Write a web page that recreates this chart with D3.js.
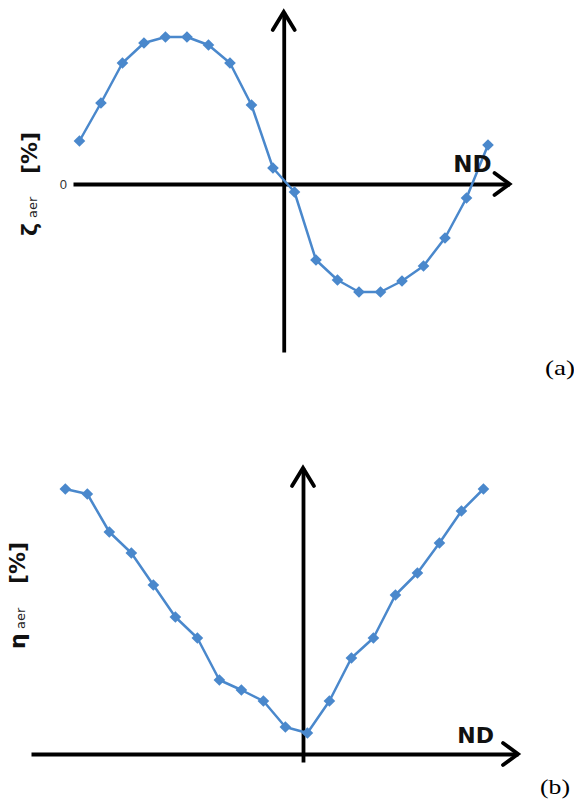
<!DOCTYPE html>
<html>
<head>
<meta charset="utf-8">
<script src="https://cdn.jsdelivr.net/npm/d3@7"></script>
<style>
  html, body { margin: 0; padding: 0; background: #fff; }
  svg { display: block; }
</style>
</head>
<body>
<div id="chart"></div>
<script>
// ---- Data ----
// Panel (a): zeta_aer vs ND
const ndA = [-9.5, -8.5, -7.5, -6.5, -5.5, -4.5, -3.5, -2.5, -1.5, -0.5,
              0.5,  1.5,  2.5,  3.5,  4.5,  5.5,  6.5,  7.5,  8.5,  9.5];
const zetaAer = [4.3, 8.1, 12.1, 14.1, 14.7, 14.7, 13.9, 12.1, 7.9, 1.6,
                 -0.8, -7.6, -9.6, -10.8, -10.8, -9.7, -8.2, -5.4, -1.4, 3.9];

// Panel (b): eta_aer vs ND
const ndB = [-10.8, -9.8, -8.8, -7.8, -6.8, -5.8, -4.8, -3.8, -2.8, -1.8,
              -0.8,  0.2,  1.2,  2.2,  3.2,  4.2,  5.2,  6.2,  7.2,  8.2];
const etaAer = [26.5, 26.0, 22.2, 20.1, 16.9, 13.7, 11.6, 7.4, 6.4, 5.3,
                2.7, 2.1, 5.3, 9.6, 11.6, 15.9, 18.1, 21.1, 24.3, 26.5];

// Labels
const xLabel = "ND";
const yLabelA = { sym: "ζ", sub: "aer", unit: "[%]" };
const yLabelB = { sym: "η", sub: "aer", unit: "[%]" };
const zeroLabel = "0";
const panelA = "(a)";
const panelB = "(b)";

// ---- Drawing ----
const W = 574, H = 799;
const blue = "#4a88cc";

const svg = d3.select("#chart").append("svg")
  .attr("width", W).attr("height", H)
  .attr("viewBox", `0 0 ${W} ${H}`);
svg.append("rect").attr("width", W).attr("height", H).attr("fill", "#fff");

function panel(cfg) {
  const g = svg.append("g");
  const x = cfg.x, y = cfg.y;
  const [x0, x1] = x.range();
  const [yb, yt] = y.range();
  const axisY = y(0), axisX = x(0);

  // horizontal axis (through zero)
  const ax = g.append("g")
    .attr("transform", `translate(0,${axisY})`)
    .call(d3.axisBottom(x).tickValues([]).tickSizeOuter(0));
  ax.select(".domain").attr("stroke", "#000").attr("stroke-width", 3.8);

  // vertical axis (at ND = 0)
  const ay = g.append("g")
    .attr("transform", `translate(${axisX},0)`)
    .call(d3.axisLeft(y).tickValues([]).tickSizeOuter(0));
  ay.select(".domain").attr("stroke", "#000").attr("stroke-width", 3.8);

  // arrow heads (open chevrons)
  const ah = 15, aw = 11;
  g.append("path")
    .attr("d", `M${x1 - ah},${axisY - aw}L${x1},${axisY}L${x1 - ah},${axisY + aw}`)
    .attr("fill", "none").attr("stroke", "#000").attr("stroke-width", 3.8)
    .attr("stroke-linecap", "round").attr("stroke-linejoin", "miter");
  g.append("path")
    .attr("d", `M${axisX - aw},${yt + ah + 3}L${axisX},${yt}L${axisX + aw},${yt + ah + 3}`)
    .attr("fill", "none").attr("stroke", "#000").attr("stroke-width", 3.8)
    .attr("stroke-linecap", "round").attr("stroke-linejoin", "miter");

  // data line
  const data = cfg.nd.map((d, i) => ({ nd: d, v: cfg.vals[i] }));
  g.append("path")
    .datum(data)
    .attr("fill", "none")
    .attr("stroke", blue)
    .attr("stroke-width", 2.5)
    .attr("stroke-linejoin", "round")
    .attr("d", d3.line().x(d => x(d.nd)).y(d => y(d.v)));

  // diamond markers
  const sym = d3.symbol().type(d3.symbolSquare).size(68);
  g.selectAll("path.mk").data(data).join("path")
    .attr("class", "mk")
    .attr("d", sym)
    .attr("fill", blue)
    .attr("transform", d => `translate(${x(d.nd)},${y(d.v)}) rotate(45)`);

  // ND label
  g.append("text")
    .attr("x", x1 - cfg.ndOff[0]).attr("y", axisY - cfg.ndOff[1])
    .attr("text-anchor", "end")
    .attr("font-family", "DejaVu Sans, sans-serif")
    .attr("font-weight", "bold")
    .attr("font-size", cfg.ndSize)
    .attr("fill", "#111")
    .text(xLabel);

  // Y label (rotated pieces)
  const yl = cfg.ylab;
  const lx = cfg.ylx;
  g.append("text")
    .attr("transform", `translate(${lx},${cfg.ylPos[0]}) rotate(-90)`)
    .attr("font-family", "DejaVu Sans, sans-serif").attr("font-weight", "bold")
    .attr("font-size", 22).attr("fill", "#111").text(yl.sym);
  g.append("text")
    .attr("transform", `translate(${lx},${cfg.ylPos[1]}) rotate(-90)`)
    .attr("font-family", "DejaVu Sans, sans-serif")
    .attr("font-size", 13).attr("fill", "#222").text(yl.sub);
  g.append("text")
    .attr("transform", `translate(${lx},${cfg.ylPos[2]}) rotate(-90)`)
    .attr("font-family", "DejaVu Sans, sans-serif").attr("font-weight", "bold")
    .attr("font-size", 22).attr("fill", "#111").text(yl.unit);

  if (cfg.zero) {
    g.append("text")
      .attr("x", x0 - 6).attr("y", axisY).attr("dy", "0.35em")
      .attr("text-anchor", "end")
      .attr("font-family", "Liberation Sans, Arial, sans-serif")
      .attr("font-size", 13).attr("fill", "#333")
      .text(zeroLabel);
  }

  // panel tag
  g.append("text")
    .attr("x", cfg.tag[1]).attr("y", cfg.tag[2])
    .attr("font-family", "Liberation Serif, Times New Roman, serif")
    .attr("font-size", 21).attr("fill", "#000")
    .attr("textLength", 30).attr("lengthAdjust", "spacingAndGlyphs")
    .text(cfg.tag[0]);
}

panel({
  nd: ndA, vals: zetaAer,
  x: d3.scaleLinear().domain([-9.8, 10.5]).range([73, 509.5]),
  y: d3.scaleLinear().domain([-16.8, 17.2]).range([352, 12]),
  ndOff: [18, 12], ndSize: 23,
  ylab: yLabelA, ylx: 37, ylPos: [236, 218, 174],
  zero: true,
  tag: [panelA, 545, 375]
});

panel({
  nd: ndB, vals: etaAer,
  x: d3.scaleLinear().domain([-12.36, 9.77]).range([31, 518]),
  y: d3.scaleLinear().domain([-0.8, 28.6]).range([762, 468]),
  ndOff: [24, 11], ndSize: 22,
  ylab: yLabelB, ylx: 25, ylPos: [649, 629, 584],
  zero: false,
  tag: [panelB, 540, 794]
});
</script>
</body>
</html>
